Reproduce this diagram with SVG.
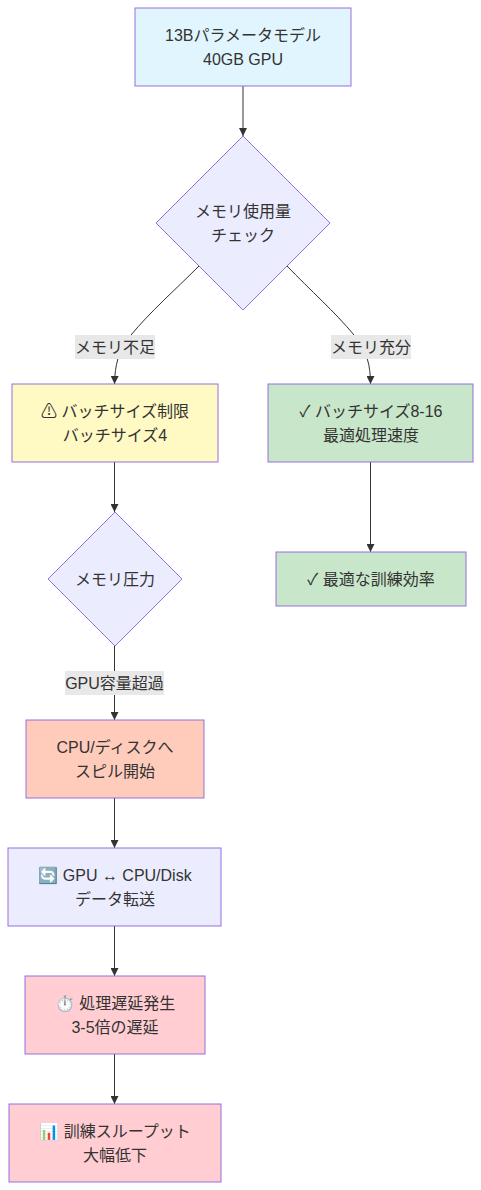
<svg xmlns="http://www.w3.org/2000/svg" width="481" height="1190" viewBox="0 0 481 1190">
<defs>
<marker id="arrow" markerUnits="userSpaceOnUse" markerWidth="8" markerHeight="8" refX="8" refY="4" orient="auto"><path d="M0,0L8,4L0,8Z" fill="#333"/></marker>
</defs>
<style>
text{font-family:"Liberation Sans","Noto Sans CJK JP",sans-serif;font-size:16px;fill:#333;text-anchor:middle}
.n{stroke:#9370DB;stroke-width:1}
.e{fill:none;stroke:#333;stroke-width:1;marker-end:url(#arrow)}
.lb{fill:#e8e8e8}
</style>
<rect width="481" height="1190" fill="#fff"/>
<g id="connectors">
<path class="e" d="M243,86V136"/>
<path class="e" d="M199,266C175,290 150,312 131,335C118,351 115,365 114.500,384"/>
<path class="e" d="M287,266C310,290 335,312 354,335C367,351 370.500,365 370.500,384"/>
<path class="e" d="M114.500,462V512"/>
<path class="e" d="M370.500,462V552"/>
<path class="e" d="M114.500,645V720"/>
<path class="e" d="M114.500,798V848"/>
<path class="e" d="M114.500,926V976"/>
<path class="e" d="M114.500,1054V1104"/>
</g>
<g id="edge-labels">
<g id="label-shortage"><rect class="lb" x="75" y="335" width="80" height="24"/><text x="115" y="353">メモリ不足</text></g>
<g id="label-enough"><rect class="lb" x="331" y="335" width="80" height="24"/><text x="371" y="353">メモリ充分</text></g>
<g id="label-over"><rect class="lb" x="65" y="671" width="99" height="24"/><text x="114.500" y="689">GPU容量超過</text></g>
</g>
<g id="model"><rect class="n" x="135" y="8" width="216" height="78" fill="#e1f5fe"/><text x="243" y="41">13Bパラメータモデル</text><text x="243" y="65">40GB GPU</text></g>
<g id="check"><polygon class="n" points="243,136 330,223 243,310 156,223" fill="#ececff"/><text x="243" y="217">メモリ使用量</text><text x="243" y="241">チェック</text></g>
<g id="limit"><rect class="n" x="12" y="384" width="206" height="78" fill="#fff9c4"/><text x="115" y="417">⚠︎ バッチサイズ制限</text><text x="115" y="441">バッチサイズ4</text></g>
<g id="batch"><rect class="n" x="268" y="384" width="205" height="78" fill="#c8e6c9"/><text x="371" y="417">✓ バッチサイズ8-16</text><text x="371" y="441">最適処理速度</text></g>
<g id="pressure"><polygon class="n" points="115,512 182,579 115,646 48,579" fill="#ececff"/><text x="115" y="585">メモリ圧力</text></g>
<g id="efficiency"><rect class="n" x="276" y="552" width="190" height="54" fill="#c8e6c9"/><text x="371" y="585">✓ 最適な訓練効率</text></g>
<g id="spill"><rect class="n" x="26" y="720" width="178" height="78" fill="#ffccbc"/><text x="115" y="753">CPU/ディスクへ</text><text x="115" y="777">スピル開始</text></g>
<g id="transfer"><rect class="n" x="8" y="848" width="213" height="78" fill="#ececff"/><text x="115" y="881">🔄 GPU ↔ CPU/Disk</text><text x="115" y="905">データ転送</text></g>
<g id="delay"><rect class="n" x="25" y="976" width="180" height="78" fill="#ffcdd2"/><text x="115" y="1009">⏱️ 処理遅延発生</text><text x="115" y="1033">3-5倍の遅延</text></g>
<g id="throughput"><rect class="n" x="9" y="1104" width="212" height="78" fill="#ffcdd2"/><text x="115" y="1137">📊 訓練スループット</text><text x="115" y="1161">大幅低下</text></g>
</svg>
